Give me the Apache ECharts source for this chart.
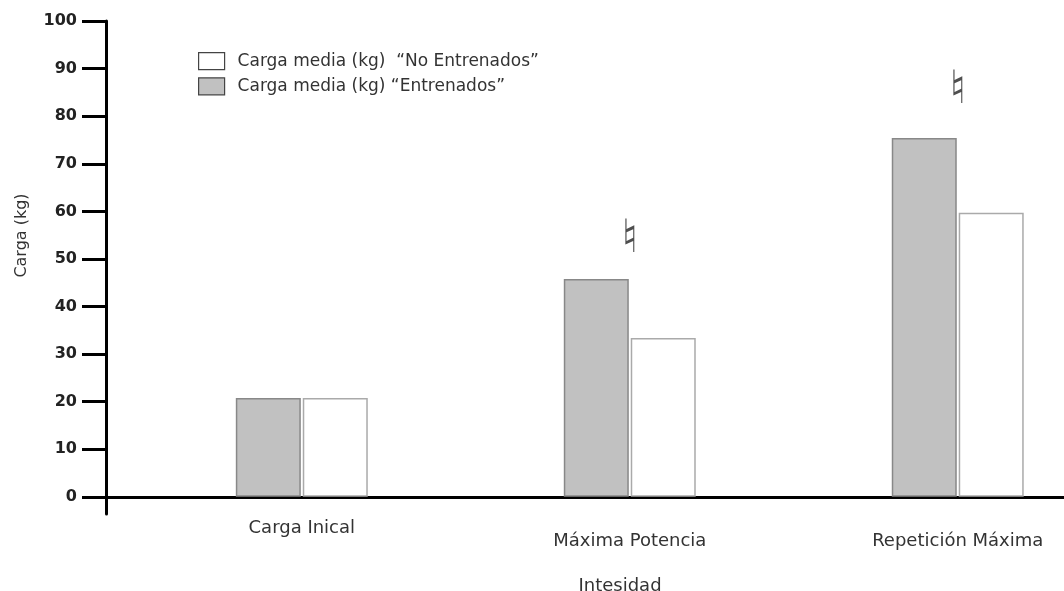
<!DOCTYPE html>
<html>
<head>
<meta charset="utf-8">
<script src="https://cdn.jsdelivr.net/npm/echarts@6/dist/echarts.min.js"></script>
<style>html,body{margin:0;padding:0;background:#fff}#c{width:1064px;height:591px}</style>
</head>
<body>
<div id="c"></div>
<script>
const categories = ['Carga Inical', 'Máxima Potencia', 'Repetición Máxima'];
const entrenados = [20.8, 45.8, 75.4];
const noEntrenados = [20.8, 33.4, 59.7];
const significance = [null, 54.0, 85.3];
const yTicks = [0, 10, 20, 30, 40, 50, 60, 70, 80, 90, 100];
const nameEntr = 'Carga media (kg) \u201cEntrenados\u201d';
const nameNoEntr = 'Carga media (kg)  \u201cNo Entrenados\u201d';

const font = '"DejaVu Sans", sans-serif';
const idx = categories.map((c, i) => i);

const chart = echarts.init(document.getElementById('c'), null, {renderer: 'canvas'});
chart.setOption({
  animation: false,
  backgroundColor: '#fff',
  grid: {left: 106, right: 0, top: 21, bottom: 77, containLabel: false, outerBoundsMode: 'none'},
  legend: {
    orient: 'vertical', left: 193, top: 47,
    icon: 'rect',
    itemWidth: 26, itemHeight: 17, itemGap: 7,
    data: [nameNoEntr, nameEntr],
    itemStyle: {borderColor: '#444', borderWidth: 1.2},
    textStyle: {fontFamily: font, fontSize: 17, color: '#333', padding: [0, 0, 0, 8]}
  },
  xAxis: {
    type: 'value', min: -0.597, max: 2.324,
    name: 'Intesidad', nameLocation: 'middle', nameGap: 63,
    nameTextStyle: {fontFamily: font, fontSize: 18, color: '#333', padding: [0, 0, 0, 70]},
    axisLine: {show: true, onZero: true, lineStyle: {color: '#000', width: 3}},
    axisTick: {show: false},
    splitLine: {show: false},
    axisLabel: {
      customValues: idx,
      margin: 5,
      hideOverlap: false,
      formatter: v => {
        const i = Math.round(v);
        return i === 0 ? '{hi|' + categories[i] + '}' : '{lo|' + categories[i] + '}';
      },
      rich: {
        hi: {fontFamily: font, fontSize: 18, color: '#333'},
        lo: {fontFamily: font, fontSize: 18, color: '#333', padding: [13, 0, 0, 0]}
      }
    }
  },
  yAxis: {
    type: 'value', min: -3.6, max: 100,
    name: 'Carga (kg)', nameLocation: 'middle', nameGap: 76, nameRotate: 90,
    nameTextStyle: {fontFamily: font, fontSize: 16, color: '#333', padding: [0, 0, 0, 64]},
    axisLine: {show: true, onZero: false, lineStyle: {color: '#000', width: 3}},
    axisTick: {show: true, customValues: yTicks, length: 24, lineStyle: {color: '#000', width: 3}},
    axisLabel: {customValues: yTicks, margin: 29, fontFamily: font, fontSize: 16, fontWeight: 'bold', color: '#222'},
    splitLine: {show: false}
  },
  series: [
    {
      name: nameEntr, type: 'bar', barWidth: 65, barGap: '3%',
      data: idx.map(i => [i, entrenados[i]]),
      itemStyle: {color: '#c1c1c1', borderColor: '#888', borderWidth: 1.5}
    },
    {
      name: nameNoEntr, type: 'bar', barWidth: 65, barGap: '3%',
      data: idx.map(i => [i, noEntrenados[i]]),
      itemStyle: {color: '#fff', borderColor: '#aaa', borderWidth: 1.5}
    },
    {
      name: 'sig', type: 'scatter', symbolSize: 1, silent: true,
      itemStyle: {color: 'rgba(0,0,0,0)'},
      data: idx.filter(i => significance[i] != null).map(i => [i, significance[i]]),
      label: {show: true, position: 'inside', formatter: '\u266E', fontFamily: 'DejaVu Sans', fontSize: 46, fontWeight: 'bold', color: '#222'}
    }
  ]
});
</script>
</body>
</html>
